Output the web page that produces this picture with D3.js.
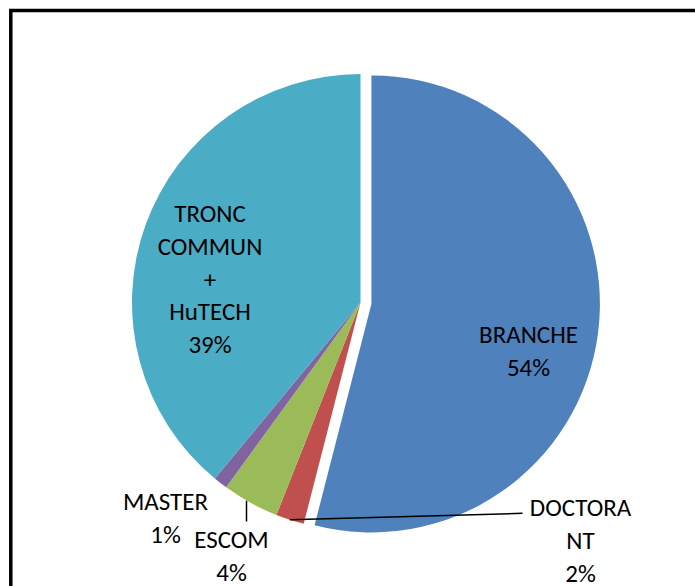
<!DOCTYPE html>
<html>
<head>
<meta charset="utf-8">
<script src="https://cdn.jsdelivr.net/npm/d3@7"></script>
<style>
  html, body { margin: 0; padding: 0; background: #fff; }
  svg { display: block; }
  text { font-family: Carlito, Lato, "Liberation Sans", sans-serif; fill: #000; }
</style>
</head>
<body>
<div id="chart"></div>
<script>
// ---- data ----
const categories = ["BRANCHE", "DOCTORANT", "ESCOM", "MASTER", "TRONC COMMUN + HuTECH"];
const values = [54, 2, 4, 1, 39];
const percentLabels = ["54%", "2%", "4%", "1%", "39%"];
const labelLines = [["BRANCHE"], ["DOCTORA", "NT"], ["ESCOM"], ["MASTER"], ["TRONC", "COMMUN", "+", "HuTECH"]];
const colors = ["#4F81BD", "#C0504D", "#9BBB59", "#8064A2", "#4BACC6"];

// ---- layout ----
const W = 695, H = 586;
const cx = 360.5, cy = 302.5, R = 228.5, explode = 11;
const fontSize = 25, lineH = 32.8;
// label anchors: center x, baseline of first line
const labelPos = [
  {x: 528.5, y: 343},
  {x: 580.5, y: 516},
  {x: 231.5, y: 548},
  {x: 165.5, y: 510},
  {x: 210,   y: 222}
];
// leader line ends (null = no leader)
const leaderEnd = [null, {x: 522.5, y: 513.3}, {x: 246.5, y: 521.5}, null, null];

const svg = d3.select("#chart").append("svg").attr("width", W).attr("height", H);

// frame
svg.append("rect").attr("x", 10.8).attr("y", 10.5).attr("width", 800).attr("height", 800)
  .attr("fill", "none").attr("stroke", "#000").attr("stroke-width", 3.5);

const data = categories.map((c, i) => ({name: c, value: values[i], i}));
const pie = d3.pie().value(d => d.value).sort(null).startAngle(0).endAngle(2 * Math.PI);
const arcs = pie(data);
const arc = d3.arc().innerRadius(0).outerRadius(R);

const g = svg.append("g").attr("transform", `translate(${cx},${cy})`);

function offsetOf(d) {
  if (d.index !== 0) return [0, 0];
  const m = (d.startAngle + d.endAngle) / 2;
  return [explode * Math.sin(m), -explode * Math.cos(m)];
}

g.selectAll("path.slice").data(arcs).join("path")
  .attr("class", "slice")
  .attr("d", arc)
  .attr("fill", (d, i) => colors[i])
  .attr("transform", d => { const o = offsetOf(d); return `translate(${o[0]},${o[1]})`; });

// leader lines
arcs.forEach((d, i) => {
  const e = leaderEnd[i];
  if (!e) return;
  const m = (d.startAngle + d.endAngle) / 2;
  const o = offsetOf(d);
  const sx = cx + o[0] + R * Math.sin(m);
  const sy = cy + o[1] - R * Math.cos(m);
  let x1 = sx, y1 = sy;
  if (i === 2) { x1 = e.x; y1 = sy - 2; }
  svg.append("line").attr("x1", x1).attr("y1", y1).attr("x2", e.x).attr("y2", e.y)
    .attr("stroke", "#000").attr("stroke-width", 1.5);
});

// labels
arcs.forEach((d, i) => {
  const lines = labelLines[i].concat([percentLabels[i]]);
  const p = labelPos[i];
  const t = svg.append("text").attr("text-anchor", "middle").attr("font-size", fontSize);
  lines.forEach((ln, k) => {
    t.append("tspan").attr("x", p.x).attr("y", p.y + k * lineH).text(ln);
  });
});
</script>
</body>
</html>
